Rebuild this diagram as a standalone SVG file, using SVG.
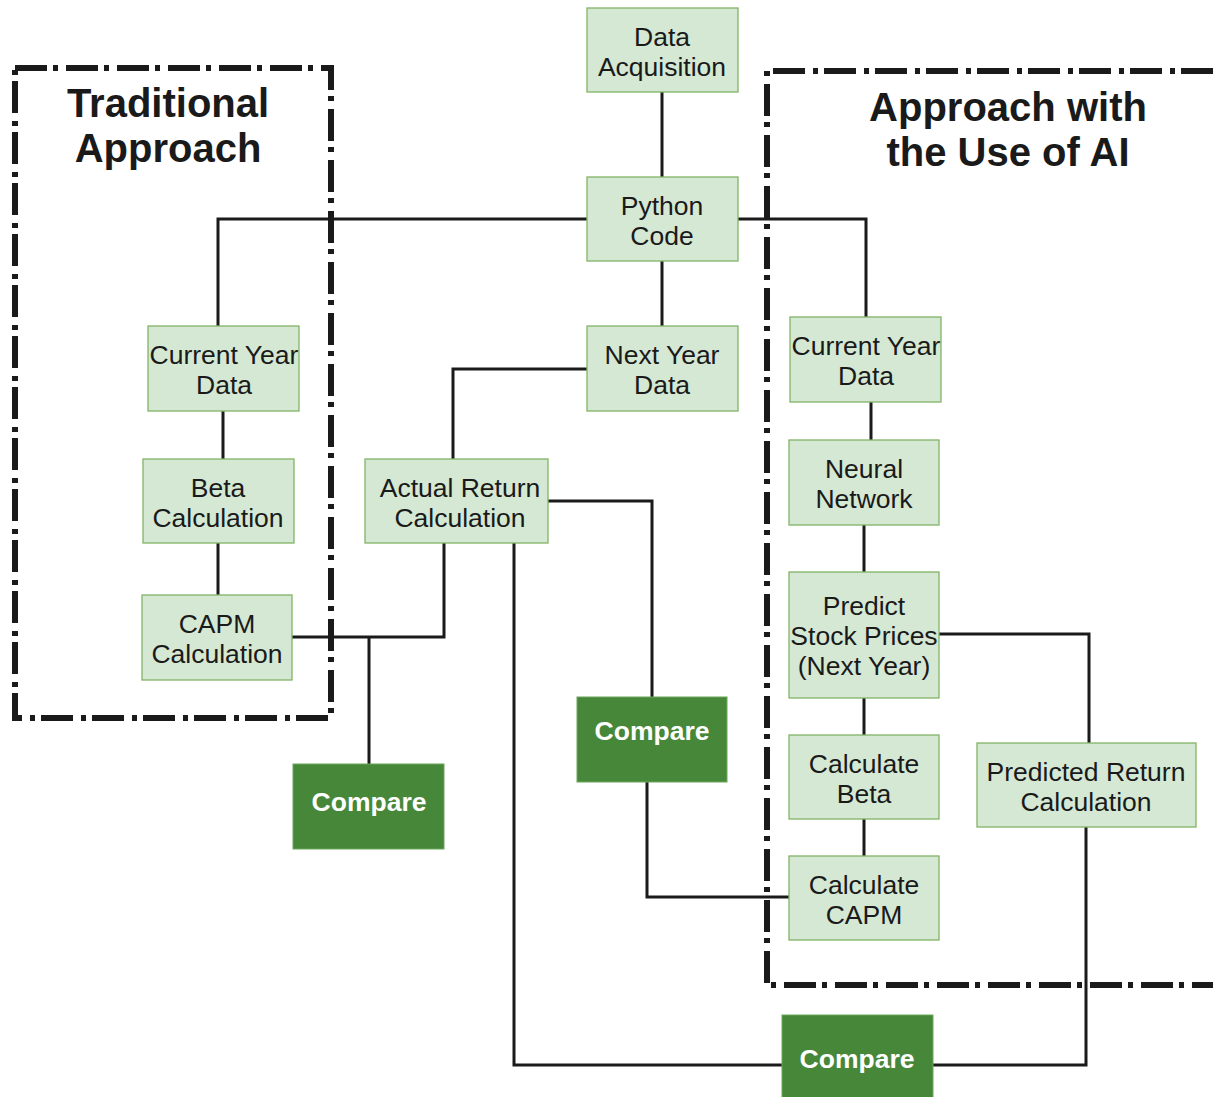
<svg xmlns="http://www.w3.org/2000/svg" width="1213" height="1097" viewBox="0 0 1213 1097">
<style>
.n rect{fill:#d5e8d4;stroke:#82b366;stroke-width:1.3}
.c rect{fill:#47873a;stroke:#6aa85a;stroke-width:1}
.n text{font-family:"Liberation Sans",Arial,sans-serif;font-size:26.5px;fill:#1a1a1a;text-anchor:middle}
.c text{font-family:"Liberation Sans",Arial,sans-serif;font-size:26.5px;font-weight:bold;fill:#fff;text-anchor:middle}
.t{font-family:"Liberation Sans",Arial,sans-serif;font-size:40px;font-weight:bold;fill:#1a1a1a;text-anchor:middle}
.g{fill:none;stroke:#1a1a1a;stroke-width:6;stroke-dasharray:32 6 5 8}
.e path{fill:none;stroke:#1a1a1a;stroke-width:3}
</style>
<rect width="1213" height="1097" fill="#fff"/>
<g id="groups">
<rect class="g" x="15" y="68" width="316" height="650"/>
<path class="g" d="M1213 71 H767 V985 H1213"/>
<text class="t" x="168" y="117">Traditional</text>
<text class="t" x="168" y="162">Approach</text>
<text class="t" x="1008" y="121">Approach with</text>
<text class="t" x="1008" y="166">the Use of AI</text>
</g>
<g id="connectors" class="e">
<path d="M662 92 V177"/>
<path d="M662 261 V326"/>
<path d="M587 219 H218 V326"/>
<path d="M738 219 H866 V317"/>
<path d="M223 411 V459"/>
<path d="M218 543 V595"/>
<path d="M587 369 H453 V459"/>
<path d="M548 501 H652 V697"/>
<path d="M292 637 H444 V543"/>
<path d="M369 637 V764"/>
<path d="M514 543 V1065 H782"/>
<path d="M647 782 V897 H789"/>
<path d="M871 402 V440"/>
<path d="M864 525 V572"/>
<path d="M864 698 V735"/>
<path d="M864 819 V856"/>
<path d="M939 634 H1089 V743"/>
<path d="M1086 827 V1065 H933"/>
</g>
<g id="data-acquisition" class="n"><rect x="587" y="8" width="151" height="84"/><text x="662" y="46">Data</text><text x="662" y="76">Acquisition</text></g>
<g id="python-code" class="n"><rect x="587" y="177" width="151" height="84"/><text x="662" y="215">Python</text><text x="662" y="245">Code</text></g>
<g id="next-year-data" class="n"><rect x="587" y="326" width="151" height="85"/><text x="662" y="364">Next Year</text><text x="662" y="394">Data</text></g>
<g id="current-year-left" class="n"><rect x="148" y="326" width="151" height="85"/><text x="224" y="364">Current Year</text><text x="224" y="394">Data</text></g>
<g id="beta-calculation" class="n"><rect x="143" y="459" width="151" height="84"/><text x="218" y="497">Beta</text><text x="218" y="527">Calculation</text></g>
<g id="capm-calculation" class="n"><rect x="142" y="595" width="150" height="85"/><text x="217" y="633">CAPM</text><text x="217" y="663">Calculation</text></g>
<g id="actual-return" class="n"><rect x="365" y="459" width="183" height="84"/><text x="460" y="497">Actual Return</text><text x="460" y="527">Calculation</text></g>
<g id="compare-left" class="c"><rect x="293" y="764" width="151" height="85"/><text x="369" y="811">Compare</text></g>
<g id="compare-mid" class="c"><rect x="577" y="697" width="150" height="85"/><text x="652" y="740">Compare</text></g>
<g id="compare-bottom" class="c"><rect x="782" y="1015" width="151" height="90"/><text x="857" y="1068">Compare</text></g>
<g id="current-year-right" class="n"><rect x="790" y="317" width="151" height="85"/><text x="866" y="355">Current Year</text><text x="866" y="385">Data</text></g>
<g id="neural-network" class="n"><rect x="789" y="440" width="150" height="85"/><text x="864" y="478">Neural</text><text x="864" y="508">Network</text></g>
<g id="predict-stock-prices" class="n"><rect x="789" y="572" width="150" height="126"/><text x="864" y="615">Predict</text><text x="864" y="645">Stock Prices</text><text x="864" y="675">(Next Year)</text></g>
<g id="calculate-beta" class="n"><rect x="789" y="735" width="150" height="84"/><text x="864" y="773">Calculate</text><text x="864" y="803">Beta</text></g>
<g id="calculate-capm" class="n"><rect x="789" y="856" width="150" height="84"/><text x="864" y="894">Calculate</text><text x="864" y="924">CAPM</text></g>
<g id="predicted-return" class="n"><rect x="977" y="743" width="219" height="84"/><text x="1086" y="781">Predicted Return</text><text x="1086" y="811">Calculation</text></g>
</svg>
